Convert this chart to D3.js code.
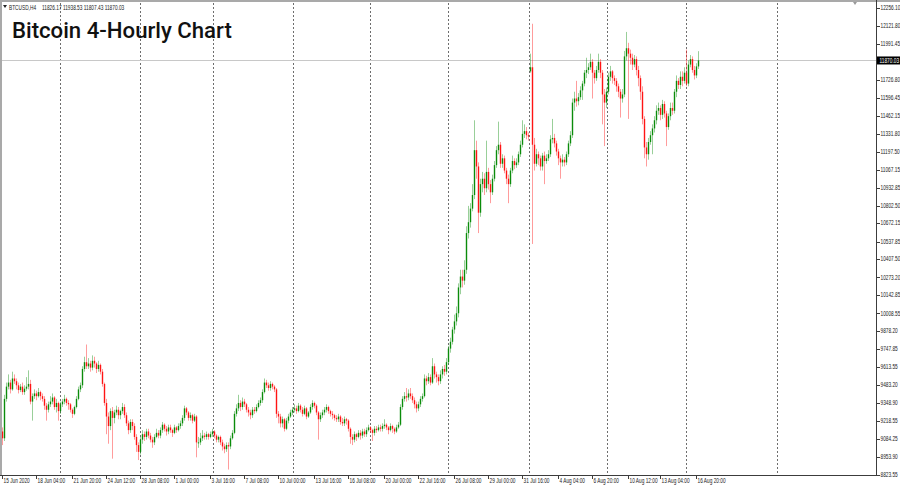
<!DOCTYPE html>
<html><head><meta charset="utf-8">
<script src="https://cdn.jsdelivr.net/npm/d3@7"></script>
<style>body{margin:0;background:#fff;overflow:hidden} svg{display:block}</style>
</head><body><svg id="c" width="900" height="487"></svg>
<script>
// ---- data (4-hour BTCUSD candles) ----
const closes = [
9090,9380,9470,9500,9450,9530,9510,9480,9445,9470,
9430,9455,9470,9490,9360,9400,9420,9400,9430,9400,
9380,9330,9300,9340,9360,9390,9320,9350,9290,9340,
9360,9380,9350,9340,9300,9270,9320,9380,9450,9480,
9600,9650,9620,9640,9610,9660,9640,9600,9630,9580,
9490,9350,9250,9180,9290,9240,9280,9300,9260,9290,
9320,9260,9200,9150,9210,9180,9100,9040,8990,9080,
9120,9100,9140,9110,9080,9060,9100,9130,9110,9150,
9190,9160,9140,9170,9150,9130,9170,9150,9180,9200,
9240,9310,9280,9240,9260,9220,9250,9060,9060,9090,
9110,9100,9120,9100,9120,9140,9110,9080,9100,9060,
9030,9010,9040,9030,9090,9130,9270,9310,9350,9320,
9360,9340,9300,9280,9260,9300,9290,9320,9350,9370,
9430,9500,9480,9460,9490,9470,9450,9270,9250,9200,
9230,9160,9220,9250,9280,9300,9310,9290,9330,9300,
9270,9310,9250,9280,9320,9350,9330,9280,9230,9260,
9280,9300,9320,9290,9270,9260,9240,9230,9250,9210,
9200,9230,9220,9160,9100,9080,9120,9100,9130,9110,
9140,9120,9150,9170,9150,9130,9160,9150,9170,9160,
9180,9190,9170,9150,9180,9160,9140,9170,9190,9320,
9380,9400,9390,9420,9400,9370,9340,9310,9340,9380,
9400,9530,9510,9540,9500,9620,9560,9540,9510,9560,
9600,9580,9650,9750,9800,9890,9950,10010,10200,10280,
10250,10330,10600,10680,10780,10880,11210,11090,10750,10960,
11000,10930,11050,10960,10900,11000,11100,11210,11250,11110,
11150,11060,11000,10960,11060,11130,11100,11120,11180,11250,
11330,11350,11320,11310,11820,11250,11110,11180,11150,11090,
11170,11130,11150,11180,11290,11300,11260,11200,11150,11120,
11140,11120,11180,11260,11320,11560,11590,11570,11600,11650,
11700,11780,11800,11820,11860,11780,11740,11800,11860,11780,
11620,11560,11640,11750,11790,11740,11720,11680,11640,11590,
11620,11900,11960,11920,11890,11840,11880,11800,11740,11640,
11440,11230,11180,11270,11320,11370,11430,11500,11520,11470,
11550,11480,11380,11460,11520,11500,11640,11720,11690,11750,
11720,11780,11700,11840,11880,11800,11760,11826.17,11870.03];

const highs = [
9170,9410,9500,9560,9520,9580,9560,9530,9500,9490,
9500,9480,9540,9590,9520,9420,9450,9440,9460,9440,
9420,9400,9350,9360,9400,9420,9400,9380,9360,9360,
9380,9410,9390,9370,9350,9310,9330,9400,9470,9500,
9620,9690,9780,9680,9660,9700,9690,9650,9660,9640,
9600,9500,9380,9280,9310,9320,9300,9330,9320,9300,
9350,9340,9280,9220,9230,9230,9200,9120,9060,9100,
9150,9140,9160,9160,9130,9100,9120,9160,9150,9170,
9210,9200,9180,9190,9190,9160,9190,9180,9200,9220,
9260,9330,9320,9290,9280,9270,9270,9260,9100,9130,
9150,9130,9140,9130,9140,9160,9150,9120,9110,9110,
9080,9050,9060,9060,9110,9150,9290,9340,9410,9370,
9390,9380,9350,9320,9300,9320,9320,9340,9370,9390,
9450,9530,9520,9500,9510,9500,9480,9460,9290,9270,
9250,9240,9240,9270,9300,9320,9340,9330,9350,9340,
9320,9330,9320,9290,9340,9370,9360,9340,9290,9280,
9300,9320,9340,9330,9300,9290,9270,9260,9270,9260,
9240,9250,9240,9230,9170,9120,9140,9130,9150,9150,
9160,9160,9170,9190,9180,9160,9180,9180,9190,9190,
9200,9230,9200,9180,9200,9190,9170,9190,9210,9340,
9400,9430,9460,9450,9460,9420,9390,9360,9360,9400,
9420,9560,9550,9570,9560,9680,9640,9580,9560,9590,
9620,9630,9680,9770,9830,9910,10000,10060,10230,10330,
10330,10400,10650,10800,10820,10960,11430,11280,11120,11000,
11050,11040,11280,11080,10990,11030,11130,11240,11420,11270,
11180,11170,11080,11030,11080,11170,11150,11150,11200,11280,
11430,11400,11380,11340,11920,12140,11300,11220,11200,11170,
11190,11200,11180,11210,11320,11440,11330,11280,11220,11170,
11180,11160,11200,11280,11350,11590,11640,11720,11630,11680,
11720,11800,11890,11850,11920,11880,11800,11830,11920,11880,
11800,11660,11670,11780,11830,11800,11760,11740,11700,11660,
11660,11940,12080,12000,11950,11920,11910,11900,11830,11760,
11680,11460,11270,11300,11350,11400,11460,11540,11560,11540,
11580,11570,11500,11480,11560,11560,11660,11760,11740,11790,
11790,11820,11950,11870,11910,11900,11830,11850,11938.53];

const lows = [
9040,9070,9360,9450,9420,9440,9490,9450,9420,9430,
9410,9410,9440,9450,9340,9220,9380,9370,9390,9370,
9360,9300,9220,9280,9320,9340,9300,9280,9220,9270,
9320,9340,9330,9300,9280,9240,9260,9310,9370,9430,
9460,9580,9600,9600,9580,9590,9610,9570,9580,9560,
9470,9330,9120,9050,9150,8940,9200,9260,9230,9230,
9270,9240,9180,9120,9130,9150,9080,8990,8930,8970,
9050,9070,9080,9090,9060,9020,9040,9090,9090,9090,
9130,9140,9110,9120,9130,9100,9120,9130,9140,9160,
9180,9220,9260,9220,9220,9200,9210,8950,9020,9040,
9070,9080,9080,9080,9090,9100,9090,9060,9060,9040,
9000,8980,8990,8860,9010,9080,9120,9250,9290,9290,
9300,9320,9280,9250,9230,9240,9270,9280,9310,9330,
9350,9420,9460,9440,9440,9450,9430,9240,9200,9170,
9170,9140,9150,9200,9240,9260,9280,9270,9280,9280,
9250,9260,9230,9240,9270,9300,9310,9260,9080,9210,
9240,9260,9280,9270,9250,9230,9220,9210,9210,9190,
9180,9180,9190,9140,9050,9040,9060,9070,9090,9080,
9090,9100,9100,9140,9130,9070,9110,9130,9140,9140,
9140,9160,9150,9120,9140,9130,9120,9130,9160,9180,
9300,9360,9360,9370,9380,9350,9310,9280,9290,9320,
9360,9390,9480,9490,9480,9490,9530,9500,9480,9490,
9530,9550,9560,9630,9720,9780,9860,9920,9980,10150,
10200,10220,10300,10560,10640,10760,10850,11000,10600,10720,
10900,10880,10900,10920,10820,10880,10980,11080,11180,11080,
11080,11040,10960,10820,10940,11040,11070,11080,11100,11160,
11230,11300,11290,11280,11780,10520,11060,11090,11100,11060,
11060,10960,11110,11130,11160,11260,11230,11170,11100,11000,
11090,11090,11100,11160,11240,11300,11500,11530,11540,11580,
11580,11680,11740,11770,11800,11590,11700,11720,11780,11740,
11400,11240,11520,11620,11720,11700,11690,11640,11600,11450,
11560,11600,11870,11440,11840,11800,11820,11760,11680,11580,
11400,11150,11090,11140,11250,11180,11340,11400,11470,11430,
11440,11450,11240,11360,11430,11470,11480,11600,11660,11660,
11680,11700,11680,11680,11820,11780,11730,11740,11807.43];

// opens equal the previous close, except where the feed opened with a gap
const gapOpens = {0: 9140, 264: 11790};

const priceTicks = [8823.55, 8953.90, 9084.25, 9218.55, 9348.90, 9483.20, 9613.55, 9747.85,
  9878.20, 10008.55, 10142.85, 10273.20, 10407.50, 10537.85, 10672.15, 10802.50, 10932.85,
  11067.15, 11197.50, 11331.80, 11462.15, 11596.45, 11726.80, 11991.45, 12121.80, 12256.10];
const priceMin = 8823.55, priceMax = 12256.10;

const timeLabels = ["15 Jun 2020","18 Jun 04:00","21 Jun 20:00","24 Jun 12:00","28 Jun 08:00",
  "1 Jul 00:00","3 Jul 16:00","7 Jul 08:00","10 Jul 00:00","13 Jul 16:00","16 Jul 08:00",
  "20 Jul 00:00","22 Jul 16:00","26 Jul 08:00","29 Jul 00:00","31 Jul 16:00","4 Aug 04:00",
  "6 Aug 20:00","10 Aug 12:00","13 Aug 04:00","16 Aug 20:00"];
const timeLabelBars = [0,17,35,52,69,86,104,121,138,156,173,191,208,226,243,260,278,295,313,329,347];
const weekGridBars = [29, 69, 105.5, 145.5, 184, 223, 263.5, 302.5, 342, 387.5];

const lastPrice = 11870.03;
const headerSymbol = "BTCUSD,H4";
const headerOHLC = "11826.17 11938.53 11807.43 11870.03";
const chartTitle = "Bitcoin 4-Hourly Chart";

// ---- layout ----
const W = 900, H = 487;
const plotL = 2, plotR = 876, plotT = 3, plotB = 475;
const svg = d3.select("#c");
const axisFont = "'Liberation Sans', Arial, sans-serif";
const axisSize = 6.3, squeeze = 0.76;

// small MT4-style text, condensed horizontally with a transform
function smallText(parent, tx, ty, str, fill) {
  return parent.append("text")
    .attr("transform", `translate(${tx},${ty}) scale(${squeeze},1)`)
    .attr("font-family", axisFont).attr("font-size", axisSize)
    .attr("fill", fill || "#222").text(str);
}

const bars = closes.map((c, i) => {
  const o = (i in gapOpens) ? gapOpens[i] : closes[i - 1];
  return {i, o, c, h: Math.max(highs[i], o, c), l: Math.min(lows[i], o, c)};
});

const x = d3.scaleLinear().domain([0, closes.length - 1]).range([2, 2 + 2 * (closes.length - 1)]);
const y = d3.scaleLinear().domain([priceMin, priceMax]).range([474.5, 8]);

svg.append("rect").attr("width", W).attr("height", H).attr("fill", "#fff");

// window borders
svg.append("rect").attr("x", 0).attr("y", 0).attr("width", W).attr("height", 2).attr("fill", "#a9a9a9");
svg.append("rect").attr("x", 0).attr("y", 0).attr("width", 2).attr("height", plotB).attr("fill", "#a9a9a9");

svg.append("defs").append("clipPath").attr("id", "plot")
  .append("rect").attr("x", plotL).attr("y", plotT).attr("width", plotR - plotL).attr("height", plotB - plotT);
const plot = svg.append("g").attr("clip-path", "url(#plot)");

// weekly dotted grid
plot.selectAll("line.grid").data(weekGridBars).join("line")
  .attr("x1", d => Math.round(x(d)) + 0.5).attr("x2", d => Math.round(x(d)) + 0.5)
  .attr("y1", plotT).attr("y2", plotB)
  .attr("stroke", "#6e6e6e").attr("stroke-width", 1).attr("stroke-dasharray", "2,2");

// last price line
plot.append("line").attr("x1", plotL).attr("x2", plotR)
  .attr("y1", Math.round(y(lastPrice)) + 0.5).attr("y2", Math.round(y(lastPrice)) + 0.5)
  .attr("stroke", "#c8c8c8").attr("stroke-width", 1);

// candles
const upCol = "#0b8c0b", dnCol = "#ff1414";
const cg = plot.append("g");
cg.selectAll("line.wick").data(bars).join("line")
  .attr("x1", d => x(d.i) + 0.5).attr("x2", d => x(d.i) + 0.5)
  .attr("y1", d => y(d.h)).attr("y2", d => y(d.l))
  .attr("stroke", d => d.c >= d.o ? upCol : dnCol).attr("stroke-opacity", 0.42).attr("stroke-width", 1);
cg.selectAll("rect.body").data(bars).join("rect")
  .attr("x", d => x(d.i) - 0.2).attr("width", 1.4)
  .attr("y", d => y(Math.max(d.o, d.c)))
  .attr("height", d => Math.max(1, Math.abs(y(d.o) - y(d.c))))
  .attr("fill", d => d.c >= d.o ? upCol : dnCol);

// axes lines
svg.append("line").attr("x1", plotR + 0.5).attr("x2", plotR + 0.5).attr("y1", 0).attr("y2", plotB + 0.5)
  .attr("stroke", "#3c3c3c");
svg.append("line").attr("x1", 0).attr("x2", plotR + 0.5).attr("y1", plotB + 0.5).attr("y2", plotB + 0.5)
  .attr("stroke", "#3c3c3c");

// price axis
const pa = svg.append("g");
pa.selectAll("line").data(priceTicks).join("line")
  .attr("x1", plotR).attr("x2", plotR + 4)
  .attr("y1", d => Math.round(y(d)) + 0.5).attr("y2", d => Math.round(y(d)) + 0.5)
  .attr("stroke", "#3c3c3c");
priceTicks.forEach(p => smallText(pa, plotR + 4.5, y(p) + 2.2, d3.format(".2f")(p)));

// current price box
const ly = y(lastPrice);
svg.append("rect").attr("x", plotR + 1).attr("y", ly - 4).attr("width", W - plotR).attr("height", 8).attr("fill", "#000");
smallText(svg, plotR + 3.5, ly + 2.3, d3.format(".2f")(lastPrice), "#fff");

// time axis
const ta = svg.append("g");
ta.selectAll("line").data(timeLabelBars).join("line")
  .attr("x1", d => Math.round(x(d)) + 0.5).attr("x2", d => Math.round(x(d)) + 0.5)
  .attr("y1", plotB).attr("y2", plotB + 4).attr("stroke", "#3c3c3c");
timeLabels.forEach((lab, k) => smallText(ta, x(timeLabelBars[k]) + 1.5, 483, lab));

// header
svg.append("path").attr("d", "M3,5 L7,5 L5,8 Z").attr("fill", "#222");
smallText(svg, 9, 9.5, headerSymbol);
smallText(svg, 42, 9.5, headerOHLC);
// shift marker
svg.append("path").attr("d", "M853,2 L857,2 L855,5 Z").attr("fill", "#9a9a9a");

// title
const t = svg.append("text").attr("x", 12).attr("y", 38)
  .attr("font-family", "Roboto, 'Open Sans', sans-serif").attr("font-weight", 500)
  .attr("font-size", 21).attr("fill", "#111").text(chartTitle);
const tw = t.node().getComputedTextLength();
t.attr("font-size", 21 * 220 / tw);
</script>
</body></html>
